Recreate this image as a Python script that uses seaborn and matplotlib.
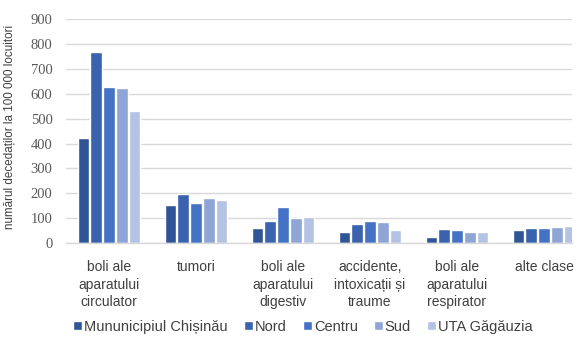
import matplotlib
matplotlib.use("Agg")
import matplotlib.pyplot as plt
import seaborn as sns
import pandas as pd
import numpy as np

categories = ["boli ale\naparatului\ncirculator", "tumori", "boli ale\naparatului\ndigestiv",
              "accidente,\nintoxicații și\ntraume", "boli ale\naparatului\nrespirator", "alte clase"]
regions = ["Mununicipiul Chișinău", "Nord", "Centru", "Sud", "UTA Găgăuzia"]
chisinau = [421, 151, 60, 46, 24, 51]
nord = [767, 197, 89, 75, 56, 60]
centru = [629, 160, 143, 87, 51, 60]
sud = [623, 183, 100, 85, 46, 63]
uta = [531, 171, 104, 54, 46, 67]
colors = ["#2F5597", "#3A62AE", "#4472C4", "#8FA5D6", "#B4C2E4"]

series = [chisinau, nord, centru, sud, uta]
rows = []
for reg, vals in zip(regions, series):
    for cat, v in zip(categories, vals):
        rows.append({"cat": cat, "region": reg, "value": v})
df = pd.DataFrame(rows)

sns.set_theme(style="white")
plt.rcParams['font.family'] = ['Liberation Sans', 'DejaVu Sans']

fig = plt.figure(figsize=(5.82, 3.46), dpi=100)
ax = fig.add_axes([65.5/582, 1-243/346, (572-65.5)/582, (243-19.3)/346])

sns.barplot(data=df, x="cat", y="value", hue="region", order=categories, hue_order=regions,
            palette=colors, saturation=1, width=0.74, gap=0.12, ax=ax, legend=False)

ax.set_xlim(-0.5, -0.5 + (572-65.5)/87)
ax.set_ylim(0, 900)
ax.set_yticks(range(0, 901, 100))
ax.yaxis.grid(True, color="#D9D9D9", linewidth=1)
ax.set_axisbelow(True)
for s in ["top", "right", "left"]:
    ax.spines[s].set_visible(False)
ax.spines["bottom"].set_color("#D9D9D9")
ax.spines["bottom"].set_linewidth(1)
ax.tick_params(axis="both", length=0)
ax.tick_params(axis="y", labelfontfamily="Liberation Serif", labelsize=10.5,
               labelcolor="#595959", pad=9.4)
ax.tick_params(axis="x", labelfontfamily="Liberation Sans", labelsize=10,
               labelcolor="#404040", pad=12)
ax.set_xlabel("")
ax.set_ylabel("numărul decedaților la 100 000 locuitori", fontsize=8.4, color="#404040",
              fontfamily="Liberation Sans")
ax.yaxis.set_label_coords(-0.098, 0.52)
for t in ax.get_xticklabels():
    t.set_linespacing(1.35)

handles = [plt.Rectangle((0, 0), 1, 1, facecolor=c) for c in colors]
fig.legend(handles, regions, loc="center", bbox_to_anchor=(303/582, 1-327/346), ncol=5,
           frameon=False, fontsize=10.5, handlelength=0.6, handleheight=0.6, handletextpad=0.15,
           columnspacing=1.1, labelcolor="#404040")

fig.savefig("out.png", dpi=100)
